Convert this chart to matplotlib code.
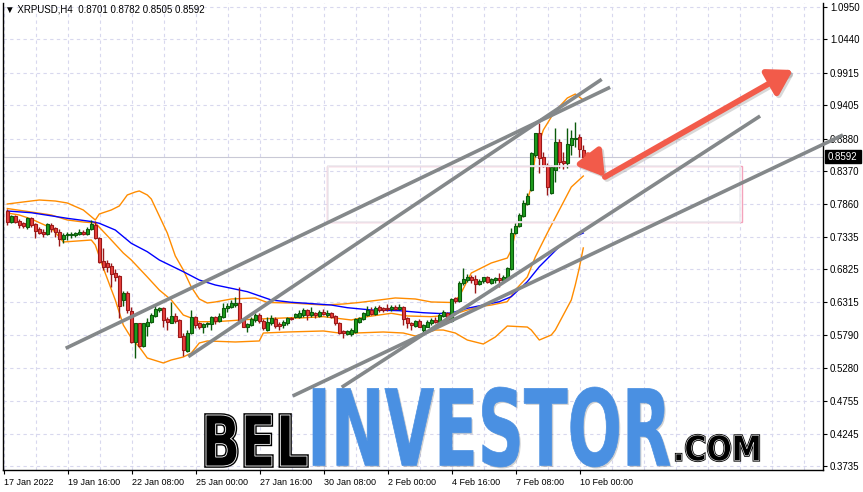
import numpy as np
import matplotlib
matplotlib.use("Agg")
import matplotlib.pyplot as plt
from matplotlib.patches import Rectangle, PathPatch, FancyArrowPatch
from matplotlib.textpath import TextPath
from matplotlib.font_manager import FontProperties
import matplotlib.transforms as mtrans

# ---------------- data ----------------
symbol_title = "XRPUSD,H4  0.8701 0.8782 0.8505 0.8592"
opens = [0.7748,0.7575,0.7664,0.7591,0.7549,0.7486,0.7628,0.7539,0.7455,0.7418,
         0.7381,0.7518,0.7470,0.7418,0.7298,0.7360,0.7371,0.7371,0.7376,0.7418,
         0.7381,0.7455,0.7528,0.7313,0.6962,0.6931,0.6878,0.6763,0.6721,0.6344,
         0.6449,0.6176,0.5689,0.5977,0.5621,0.5935,0.6003,0.6092,0.6187,0.6213,
         0.6040,0.5987,0.6092,0.6029,0.5778,0.5547,0.5820,0.6071,0.5977,0.5914,
         0.5966,0.5966,0.6071,0.6019,0.6082,0.6213,0.6229,0.6265,0.6292,0.6029,
         0.5924,0.5951,0.6030,0.6108,0.6019,0.5872,0.5988,0.6040,0.5967,0.5951,
         0.5977,0.6066,0.6082,0.6082,0.6108,0.6187,0.6103,0.6145,0.6092,0.6161,
         0.6108,0.6134,0.6092,0.5977,0.5857,0.5809,0.5809,0.5841,0.5993,0.6040,
         0.6108,0.6187,0.6124,0.6229,0.6213,0.6224,0.6197,0.6239,0.6197,0.6229,
         0.6056,0.5988,0.5941,0.6019,0.5872,0.5925,0.5988,0.6030,0.6003,0.6092,
         0.6145,0.6019,0.6370,0.6334,0.6606,0.6659,0.6711,0.6669,0.6596,0.6648,
         0.6700,0.6617,0.6659,0.6685,0.6659,0.6685,0.6826,0.7392,0.7507,0.7665,
         0.7853,0.8073,0.8623,0.8964,0.8587,0.8466,0.8021,0.8388,0.8833,0.8534,
         0.8493,0.8781,0.8880,0.8901,0.8701]
highs = [0.7769,0.7680,0.7680,0.7617,0.7575,0.7643,0.7643,0.7560,0.7486,0.7455,
         0.7549,0.7549,0.7497,0.7455,0.7402,0.7418,0.7413,0.7418,0.7455,0.7444,
         0.7486,0.7601,0.7591,0.7339,0.7156,0.6973,0.6920,0.6826,0.6737,0.6491,
         0.6485,0.6229,0.5987,0.5987,0.5987,0.6056,0.6134,0.6265,0.6239,0.6239,
         0.6082,0.6318,0.6134,0.6040,0.5820,0.5872,0.6187,0.6092,0.6003,0.5987,
         0.6003,0.6092,0.6092,0.6134,0.6292,0.6292,0.6344,0.6386,0.6543,0.6056,
         0.5977,0.6082,0.6134,0.6134,0.6040,0.6082,0.6108,0.6082,0.6004,0.6030,
         0.6082,0.6082,0.6145,0.6187,0.6213,0.6197,0.6229,0.6161,0.6187,0.6197,
         0.6187,0.6161,0.6108,0.6003,0.5872,0.5872,0.5899,0.6056,0.6082,0.6161,
         0.6250,0.6239,0.6250,0.6265,0.6239,0.6281,0.6265,0.6265,0.6281,0.6250,
         0.6082,0.6003,0.6030,0.6040,0.5967,0.6030,0.6056,0.6082,0.6134,0.6187,
         0.6161,0.6370,0.6386,0.6648,0.6842,0.6753,0.6737,0.6737,0.6669,0.6711,
         0.6721,0.6685,0.6700,0.6763,0.6737,0.6868,0.7471,0.7549,0.7717,0.7916,
         0.8021,0.8676,0.8974,0.9121,0.8676,0.8492,0.8466,0.9043,0.8870,0.8676,
         0.9043,0.9016,0.9147,0.8953,0.8782]
lows = [0.7523,0.7559,0.7549,0.7470,0.7470,0.7455,0.7486,0.7313,0.7376,0.7339,
        0.7366,0.7418,0.7339,0.7193,0.7235,0.7287,0.7313,0.7339,0.7366,0.7366,
        0.7360,0.7444,0.7298,0.6920,0.6815,0.6789,0.6553,0.6648,0.6056,0.6250,
        0.6145,0.5663,0.5427,0.5610,0.5610,0.5778,0.5977,0.6082,0.6160,0.5914,
        0.5872,0.5977,0.5987,0.5757,0.5464,0.5532,0.5809,0.5898,0.5883,0.5820,
        0.5914,0.5872,0.5966,0.6003,0.6056,0.6160,0.6213,0.6239,0.6003,0.5914,
        0.5846,0.5935,0.6004,0.5977,0.5872,0.5862,0.5951,0.5899,0.5872,0.5899,
        0.5951,0.6030,0.6056,0.6056,0.6082,0.6030,0.6082,0.6056,0.6072,0.6108,
        0.6082,0.6056,0.5951,0.5809,0.5752,0.5794,0.5783,0.5830,0.5977,0.6030,
        0.6092,0.6108,0.6108,0.6161,0.6161,0.6176,0.6176,0.6187,0.6187,0.5951,
        0.5899,0.5872,0.5925,0.5914,0.5820,0.5914,0.5951,0.5977,0.5988,0.6082,
        0.6003,0.6003,0.6292,0.6318,0.6580,0.6632,0.6617,0.6459,0.6580,0.6617,
        0.6606,0.6596,0.6606,0.6543,0.6632,0.6669,0.6816,0.7381,0.7497,0.7654,
        0.7838,0.8063,0.8597,0.8346,0.8440,0.7995,0.8010,0.8204,0.8414,0.8398,
        0.8414,0.8623,0.8744,0.8597,0.8505]
closes = [0.7575,0.7664,0.7575,0.7523,0.7507,0.7628,0.7523,0.7434,0.7402,0.7376,
          0.7539,0.7455,0.7418,0.7298,0.7366,0.7381,0.7387,0.7392,0.7418,0.7381,
          0.7460,0.7533,0.7313,0.6946,0.6868,0.6868,0.6753,0.6700,0.6250,0.6449,
          0.6187,0.5689,0.5977,0.5621,0.5977,0.6003,0.6108,0.6197,0.6213,0.6029,
          0.6003,0.6092,0.6019,0.5768,0.5558,0.5830,0.6071,0.5951,0.5914,0.5966,
          0.5977,0.6071,0.6019,0.6092,0.6213,0.6250,0.6292,0.6292,0.6029,0.5924,
          0.5961,0.6040,0.6108,0.6019,0.5899,0.6004,0.6056,0.5935,0.5935,0.6004,
          0.6056,0.6045,0.6119,0.6145,0.6187,0.6103,0.6161,0.6108,0.6161,0.6119,
          0.6145,0.6082,0.5988,0.5820,0.5820,0.5857,0.5872,0.6040,0.6056,0.6134,
          0.6187,0.6124,0.6213,0.6187,0.6187,0.6197,0.6239,0.6197,0.6239,0.6040,
          0.5977,0.5951,0.6019,0.5925,0.5951,0.6003,0.6030,0.6003,0.6108,0.6161,
          0.6019,0.6355,0.6334,0.6617,0.6669,0.6711,0.6659,0.6596,0.6648,0.6700,
          0.6632,0.6669,0.6685,0.6659,0.6711,0.6842,0.7402,0.7507,0.7680,0.7864,
          0.7979,0.8650,0.8964,0.8571,0.8451,0.8126,0.8430,0.8833,0.8519,0.8493,
          0.8796,0.8885,0.8896,0.8712,0.8592]

# Bollinger bands and moving average at sample bars
upper_idx = [0,4,8,12,15,19,22,23,26,28,30,32,33,35,36,38,40,42,44,46,48,50,52,56,62,65,71,79,84,88,92,97,102,106,111,113,116,121,125,126,127,129,131,132,134,136,137,140,142,144]
upper_val = [0.7853,0.7885,0.7916,0.7900,0.7869,0.7759,0.7602,0.7696,0.7759,0.7822,0.7995,0.8042,0.8058,0.7995,0.7932,0.7665,0.7397,0.7036,0.6816,0.6548,0.6360,0.6297,0.6313,0.6360,0.6376,0.6305,0.6297,0.6265,0.6281,0.6305,0.6336,0.6376,0.6360,0.6313,0.6305,0.6399,0.6768,0.6926,0.7004,0.7130,0.7397,0.7712,0.8120,0.8623,0.9016,0.9221,0.9315,0.9519,0.9582,0.9488]
middle_idx = [0,6,11,15,19,22,26,29,31,35,38,41,44,46,48,52,56,61,71,73,79,86,90,96,100,106,111,115,118,121,125,127,130,132,135,138,141,144]
middle_val = [0.7782,0.7727,0.7680,0.7602,0.7570,0.7555,0.7287,0.7083,0.6973,0.6706,0.6501,0.6344,0.6108,0.6061,0.6003,0.6003,0.6019,0.6041,0.6066,0.6061,0.6082,0.6030,0.6082,0.6135,0.6093,0.6082,0.6108,0.6187,0.6239,0.6265,0.6317,0.6501,0.6706,0.7020,0.7397,0.7759,0.8120,0.8293]
lower_idx = [0,3,6,11,13,14,21,22,24,27,29,31,33,35,39,41,44,46,48,50,57,63,64,70,79,83,87,94,99,102,104,107,109,112,115,119,122,125,130,131,133,136,137,139,141,142,143,144]
lower_val = [0.7712,0.7680,0.7617,0.7476,0.7334,0.7256,0.7287,0.7209,0.6847,0.6344,0.5951,0.5747,0.5605,0.5432,0.5354,0.5401,0.5448,0.5511,0.5668,0.5700,0.5684,0.5700,0.5825,0.5841,0.5857,0.5825,0.5825,0.5841,0.5825,0.5778,0.5810,0.5872,0.5872,0.5825,0.5715,0.5652,0.5762,0.5935,0.5919,0.5872,0.5715,0.5794,0.5872,0.6108,0.6344,0.6580,0.6847,0.7162]
ma_idx = [0,6,15,21,23,27,31,35,38,44,48,52,56,60,66,71,75,81,85,91,98,104,108,111,115,119,123,126,130,133,138,141,144]
ma_val = [0.7743,0.7716,0.7628,0.7578,0.7550,0.7444,0.7235,0.7103,0.6973,0.6789,0.6658,0.6580,0.6528,0.6475,0.6344,0.6308,0.6292,0.6265,0.6223,0.6187,0.6176,0.6144,0.6132,0.6140,0.6214,0.6265,0.6317,0.6396,0.6632,0.6867,0.7182,0.7319,0.7397]

price_ticks = [1.0950,1.0440,0.9915,0.9405,0.8880,0.8370,0.7860,0.7335,0.6825,0.6315,0.5790,0.5280,0.4755,0.4245,0.3735]
time_labels = ["17 Jan 2022","19 Jan 16:00","22 Jan 08:00","25 Jan 00:00","27 Jan 16:00",
               "30 Jan 08:00","2 Feb 00:00","4 Feb 16:00","7 Feb 08:00","10 Feb 00:00"]
last_price = 0.8592

# drawn objects (bar index, price)
trend_lines = [((14.6, 0.5585), (150.7, 0.9688)),
               ((45.25, 0.5453), (148.6, 0.9813)),
               ((83.6, 0.4972), (188.2, 0.9236)),
               ((71.35, 0.4835), (208.9, 0.8938))]
zone_bars = (79.85, 183.6)
zone_prices = (0.7566, 0.8455)
arrow_points = [(145.2, 0.8623), (149.4, 0.8278), (196.4, 0.9960)]

# ---------------- figure ----------------
W, H = 863, 492
fig = plt.figure(figsize=(W / 100, H / 100), dpi=100)
fig.patch.set_facecolor("white")
PL, PR, PT, PB = 2.5, 823.0, 3.0, 470.0
ax = fig.add_axes([PL / W, 1 - PB / H, (PR - PL) / W, (PB - PT) / H])
ax.set_facecolor("white")

x_lo, x_hi = (PL - 7.3) / 4, (PR - 7.3) / 4
y_hi, y_lo = 1.106 - 0.001572 * PT, 1.106 - 0.001572 * PB
ax.set_xlim(x_lo, x_hi)
ax.set_ylim(y_lo, y_hi)

FONT = ["Liberation Sans", "DejaVu Sans"]
grid_kw = dict(color="#d8d8ee", lw=0.8, dashes=(3, 3), zorder=0)
for p in price_ticks:
    ax.axhline(p, **grid_kw)
for k in range(0, 27):
    ax.axvline(8 * k - 0.9, **grid_kw)

# current price line
ax.axhline(last_price, color="#c9c9d6", lw=0.8, zorder=1)

# bands & MA
ax.plot(upper_idx, upper_val, color="#ff8c00", lw=1.0, zorder=2)
ax.plot(middle_idx, middle_val, color="#ff8c00", lw=1.0, zorder=2)
ax.plot(lower_idx, lower_val, color="#ff8c00", lw=1.0, zorder=2)
ax.plot(ma_idx, ma_val, color="#0000ff", lw=1.0, zorder=2)

# candles
idx = np.arange(len(opens))
o = np.array(opens); h = np.array(highs); l = np.array(lows); c = np.array(closes)
up = c >= o
for mask, fc, ec in [(up, "#1f9e1f", "#0b5a0b"), (~up, "#e8403c", "#9a1818")]:
    ax.vlines(idx[mask], l[mask], h[mask], color=ec, lw=1.0, zorder=3)
    bottoms = np.minimum(o, c)[mask]
    heights = np.maximum(np.abs(c - o)[mask], 0.0008)
    ax.bar(idx[mask], heights, bottom=bottoms, width=0.72, color=fc,
           edgecolor=ec, linewidth=0.8, zorder=4)

# zone rectangle
ax.add_patch(Rectangle((zone_bars[0], zone_prices[0]), zone_bars[1] - zone_bars[0],
                       zone_prices[1] - zone_prices[0], fill=False,
                       edgecolor="#f4a3bb", lw=1.0, zorder=5))
ax.add_patch(Rectangle((zone_bars[0] + 0.4, zone_prices[0] + 0.0012), zone_bars[1] - zone_bars[0] - 0.8,
                       zone_prices[1] - zone_prices[0] - 0.0024, fill=False,
                       edgecolor="#ececf0", lw=1.2, zorder=5))

# trend lines
for (x0, y0), (x1, y1) in trend_lines:
    ax.plot([x0, x1], [y0, y1], color="#84888a", lw=2.6, solid_capstyle="butt",
            zorder=6, clip_on=False)

# arrow
def draw_arrow(p0, p1, col, z, lw=4.2, off=(0, 0)):
    a = FancyArrowPatch(p0, p1, arrowstyle="-|>,head_length=0.9,head_width=0.55",
                        mutation_scale=16, color=col, lw=lw, zorder=z,
                        shrinkA=0, shrinkB=0, capstyle="round")
    if off != (0, 0):
        a.set_transform(ax.transData + mtrans.Affine2D().translate(*off))
    ax.add_patch(a)

for (p0, p1) in [(arrow_points[0], arrow_points[1]), (arrow_points[1], arrow_points[2])]:
    draw_arrow(p0, p1, (0.4, 0.4, 0.4, 0.25), 6.5, off=(2, -2))
    draw_arrow(p0, p1, "#f25b4a", 7)

# axes styling
for s in ["top"]:
    ax.spines[s].set_visible(False)
for s in ["left", "right", "bottom"]:
    ax.spines[s].set_color("black")
    ax.spines[s].set_linewidth(1.0)
ax.yaxis.tick_right()
ax.set_yticks(price_ticks)
ax.set_yticklabels([f"{p:.4f}" for p in price_ticks], fontsize=7, family=FONT)
ax.set_xticks([16 * k - 0.9 for k in range(len(time_labels))])
ax.set_xticklabels(time_labels, fontsize=6.5, family=FONT, ha="left")
ax.tick_params(axis="y", direction="out", length=3, width=0.8, pad=2, colors="black")
ax.tick_params(axis="x", direction="out", length=3, width=0.8, pad=3, colors="black")

# title
fig.text(5 / W, 1 - 10 / H, "\u25BC " + symbol_title, fontsize=7, family=FONT,
         va="center", ha="left", color="black")

# overlay (pixel coordinates) for the price box and logo
ov = fig.add_axes([0, 0, 1, 1], zorder=10)
ov.set_xlim(0, W); ov.set_ylim(H, 0); ov.axis("off")
ov.patch.set_alpha(0)

yp = (1.106 - last_price) / 0.001572
ov.add_patch(Rectangle((825, yp - 6.5), 36, 13, color="black", zorder=1))
ov.text(827.5, yp + 0.3, f"{last_price:.4f}", color="white", fontsize=7, family=FONT,
        va="center", ha="left", zorder=2)

def fit_text(s, box, fp, **kw):
    tp = TextPath((0, 0), s, size=100, prop=fp)
    ext = tp.get_extents()
    x0, y0, x1, y1 = box
    tr = (mtrans.Affine2D().translate(-ext.x0, -ext.y0)
          .scale((x1 - x0) / ext.width, -(y1 - y0) / ext.height)
          .translate(x0, y1))
    return tr.transform_path(tp)

fpb = FontProperties(family="DejaVu Sans", weight="bold")
bel = fit_text("BEL", (206, 415, 307, 466), fpb)
ov.add_patch(PathPatch(bel, facecolor="black", edgecolor="black", lw=2.6, zorder=3))
ov.add_patch(PathPatch(bel, facecolor="none", edgecolor="white", lw=0.6, zorder=4))
inv = fit_text("INVESTOR", (313, 387, 670, 467), fpb)
ov.add_patch(PathPatch(inv, facecolor=(0.3, 0.3, 0.3, 0.25), edgecolor="none", lw=0, zorder=2,
                       transform=ov.transData + mtrans.Affine2D().translate(1.5, -1.5)))
ov.add_patch(PathPatch(inv, facecolor="#4a90e2", edgecolor="#4a90e2", lw=0.5, zorder=3))
com = fit_text(".COM", (676, 435, 759, 461), fpb)
ov.add_patch(PathPatch(com, facecolor="black", edgecolor="black", lw=1.6, zorder=3))
ov.add_patch(PathPatch(com, facecolor="none", edgecolor="white", lw=0.4, zorder=4))

fig.savefig("out.png", dpi=100, facecolor="white")
